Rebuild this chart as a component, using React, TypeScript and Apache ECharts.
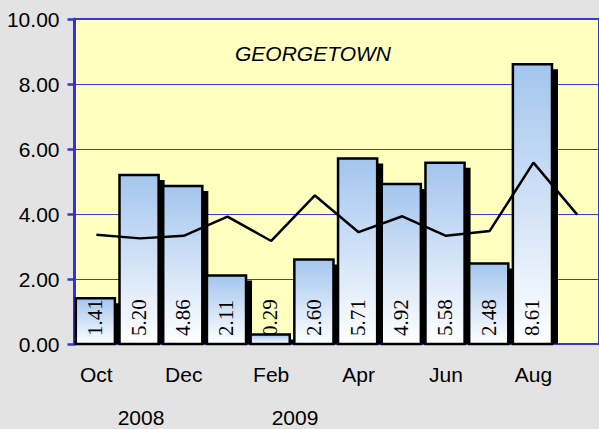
import React, { useEffect, useRef } from "react";
import * as echarts from "echarts";

const months = ["Oct", "Nov", "Dec", "Jan", "Feb", "Mar", "Apr", "May", "Jun", "Jul", "Aug", "Sep"];
const barValues: (number | null)[] = [1.41, 5.2, 4.86, 2.11, 0.29, 2.6, 5.71, 4.92, 5.58, 2.48, 8.61, null];
const lineValues = [3.36, 3.25, 3.33, 3.92, 3.17, 4.57, 3.44, 3.93, 3.33, 3.48, 5.58, 3.98];
const yTicks = { min: 0, max: 10, interval: 2 };
const years = [
  { label: "2008", x: 141 },
  { label: "2009", x: 295 },
];
const chartTitle = "GEORGETOWN";

const BLUE = "#3535cc";

export default function App() {
  const ref = useRef<HTMLDivElement>(null);
  useEffect(() => {
    if (!ref.current) return;
    const chart = echarts.init(ref.current, null, { renderer: "svg" });
    const barData = barValues
      .map((v, i) => (v == null ? null : [i, v]))
      .filter((d) => d != null) as number[][];
    chart.setOption({
      animation: false,
      backgroundColor: "#e3e3e3",
      grid: {
        left: 74.5,
        top: 19,
        width: 530,
        height: 325,
        show: true,
        backgroundColor: "#ffffc0",
        borderColor: BLUE,
        borderWidth: 2,
      },
      xAxis: {
        type: "category",
        data: months,
        boundaryGap: true,
        axisLine: { show: true, lineStyle: { color: BLUE, width: 2 } },
        axisTick: { show: false },
        axisLabel: {
          interval: 1,
          fontSize: 21,
          fontFamily: "Liberation Sans",
          color: "#000",
          margin: 20,
        },
        splitLine: { show: false },
      },
      yAxis: {
        type: "value",
        min: yTicks.min,
        max: yTicks.max,
        interval: yTicks.interval,
        axisLine: { show: true, lineStyle: { color: BLUE, width: 3 } },
        axisTick: { show: true, length: 7, lineStyle: { color: BLUE, width: 2.5 } },
        axisLabel: {
          fontSize: 21,
          fontFamily: "Liberation Sans",
          color: "#000",
          margin: 15,
          formatter: (v: number) => v.toFixed(2),
        },
        splitLine: { show: true, lineStyle: { color: "#3a3ad6", width: 1 } },
      },
      graphic: [
        {
          type: "text",
          left: 235,
          top: 43,
          style: {
            text: chartTitle,
            fontSize: 21,
            fontStyle: "italic",
            fontFamily: "Liberation Sans",
            fill: "#000",
          },
        },
        ...years.map((y) => ({
          type: "text",
          x: y.x,
          y: 417,
          style: {
            text: y.label,
            fontSize: 21,
            fontFamily: "Liberation Sans",
            fill: "#000",
            align: "center",
            verticalAlign: "middle",
          },
        })),
      ],
      series: [
        {
          type: "custom",
          data: barData,
          encode: { x: 0, y: 1 },
          z: 2,
          renderItem: (params: any, api: any) => {
            const idx = api.value(0);
            const v = api.value(1);
            const top = api.coord([idx, v]);
            const base = api.coord([idx, 0]);
            const bw = api.size([1, 0])[0];
            const w = bw * 0.895;
            const cx = top[0] - 1;
            const x = cx - w / 2;
            const h = base[1] - top[1];
            return {
              type: "group",
              children: [
                {
                  type: "rect",
                  shape: { x: x + 6, y: top[1] + 5, width: w, height: Math.max(h - 5, 0) },
                  style: { fill: "#000" },
                },
                {
                  type: "rect",
                  shape: { x, y: top[1], width: w, height: h },
                  style: {
                    fill: new echarts.graphic.LinearGradient(0, 0, 0, 1, [
                      { offset: 0, color: "#a3c5ee" },
                      { offset: 1, color: "#ffffff" },
                    ]),
                    stroke: "#000",
                    lineWidth: 2.5,
                  },
                },
                {
                  type: "text",
                  x: cx,
                  y: base[1] - 8,
                  rotation: Math.PI / 2,
                  style: {
                    text: Number(v).toFixed(2),
                    fontSize: 21,
                    fontFamily: "Liberation Serif",
                    fill: "#000",
                    align: "left",
                    verticalAlign: "middle",
                  },
                },
              ],
            };
          },
        },
        {
          type: "line",
          data: lineValues,
          symbol: "none",
          z: 5,
          lineStyle: { color: "#000", width: 2.5 },
        },
      ],
    });
    return () => chart.dispose();
  }, []);
  return (
    <div
      ref={ref}
      style={{ position: "fixed", left: 0, top: 0, width: 599, height: 429 }}
    />
  );
}
